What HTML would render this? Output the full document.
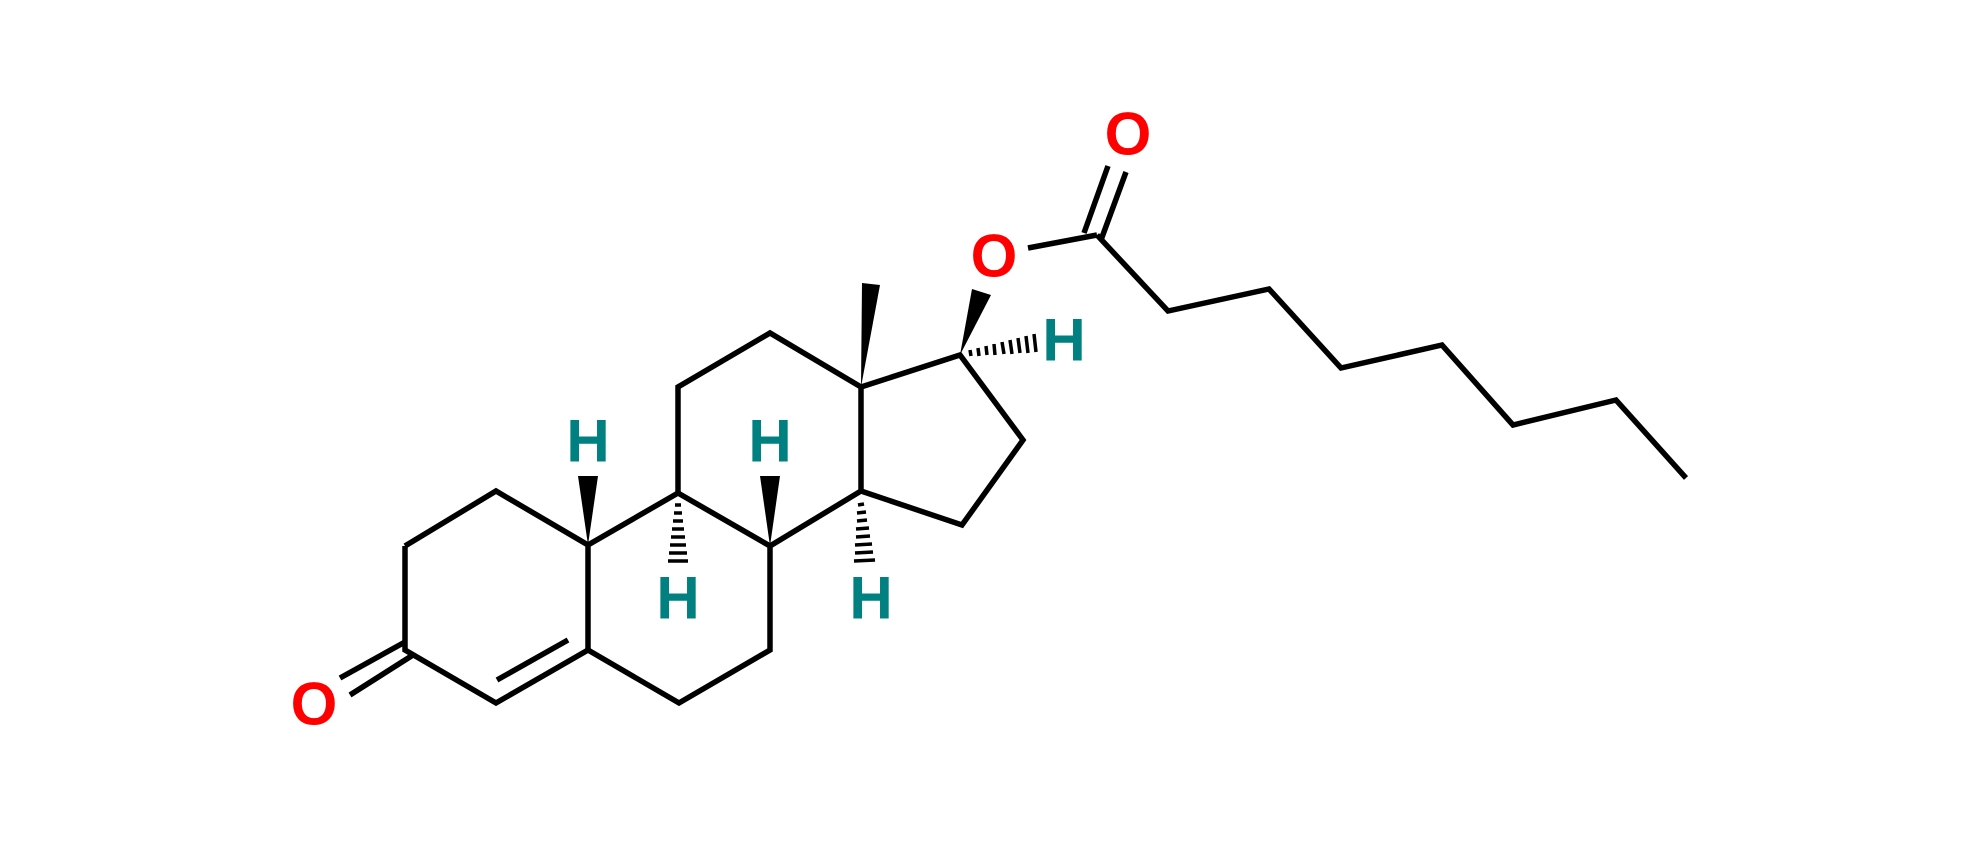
<!DOCTYPE html>
<html><head><meta charset="utf-8"><style>
html,body{margin:0;padding:0;background:#fff;}
svg{display:block;}
text{font-family:"Liberation Sans",sans-serif;font-weight:bold;font-size:60px;text-anchor:middle;dominant-baseline:central;}
</style></head><body>
<svg width="1980" height="843" viewBox="0 0 1980 843" xmlns="http://www.w3.org/2000/svg">
<g stroke="#000" stroke-width="5.5" fill="none" stroke-linejoin="miter" stroke-linecap="butt">
<polyline points="405,546 496,491 588,545 588,650 496,703 405,650 405,546"/>
<polyline points="588,545 678,493 770,546 770,650 679,703 588,650"/>
<polyline points="678,493 678,387 770,333 861,387 861,491 770,546"/>
<polyline points="861,387 960,355 1023,440 962,525 861,491"/>
<line x1="497" y1="680" x2="568" y2="640"/>
<line x1="340" y1="678" x2="405" y2="642"/>
<line x1="350" y1="695" x2="413" y2="655"/>
<line x1="1028" y1="248" x2="1097" y2="235"/>
<line x1="1084" y1="233" x2="1108" y2="166"/>
<line x1="1101" y1="240" x2="1126" y2="172"/>
<polyline points="1097,235 1168,311 1269,289 1341,368 1442,345 1513,425 1616,400 1686,478"/>
</g>
<g fill="#000">
<polygon points="861,387 862,283 880,285"/>
<polygon points="960,355 972,289 991,295"/>
<polygon points="588,545 578,476 598,476"/>
<polygon points="770,546 760,476 780,476"/>
</g>
<g stroke="#000" stroke-width="3.5">
<line x1="675" y1="505" x2="681" y2="505"/>
<line x1="674" y1="513" x2="682" y2="513"/>
<line x1="673" y1="521" x2="683" y2="521"/>
<line x1="672" y1="529" x2="684" y2="529"/>
<line x1="671" y1="537" x2="685" y2="537"/>
<line x1="670" y1="545" x2="686" y2="545"/>
<line x1="669" y1="553" x2="687" y2="553"/>
<line x1="668" y1="561" x2="688" y2="561"/>
<line x1="858" y1="505" x2="864" y2="504"/>
<line x1="857" y1="513" x2="866" y2="512"/>
<line x1="857" y1="521" x2="867" y2="520"/>
<line x1="856" y1="529" x2="869" y2="528"/>
<line x1="856" y1="537" x2="870" y2="536"/>
<line x1="855" y1="545" x2="872" y2="544"/>
<line x1="855" y1="553" x2="873" y2="552"/>
<line x1="854" y1="561" x2="875" y2="560"/>
<line x1="970" y1="350" x2="971" y2="356"/>
<line x1="978" y1="348" x2="979" y2="356"/>
<line x1="986" y1="346" x2="987" y2="355"/>
<line x1="994" y1="344" x2="995" y2="355"/>
<line x1="1002" y1="342" x2="1004" y2="354"/>
<line x1="1010" y1="340" x2="1012" y2="354"/>
<line x1="1018" y1="338" x2="1020" y2="353"/>
<line x1="1026" y1="336" x2="1028" y2="353"/>
<line x1="1034" y1="334" x2="1036" y2="352"/>
</g>
<g fill="#ff0000">
<text x="314" y="704">O</text>
<text x="994" y="256">O</text>
<text x="1128" y="134">O</text>
</g>
<g fill="#008080">
<text x="588" y="441">H</text>
<text x="770" y="441">H</text>
<text x="678" y="598">H</text>
<text x="871" y="598">H</text>
<text x="1064" y="340">H</text>
</g>
</svg>
</body></html>
